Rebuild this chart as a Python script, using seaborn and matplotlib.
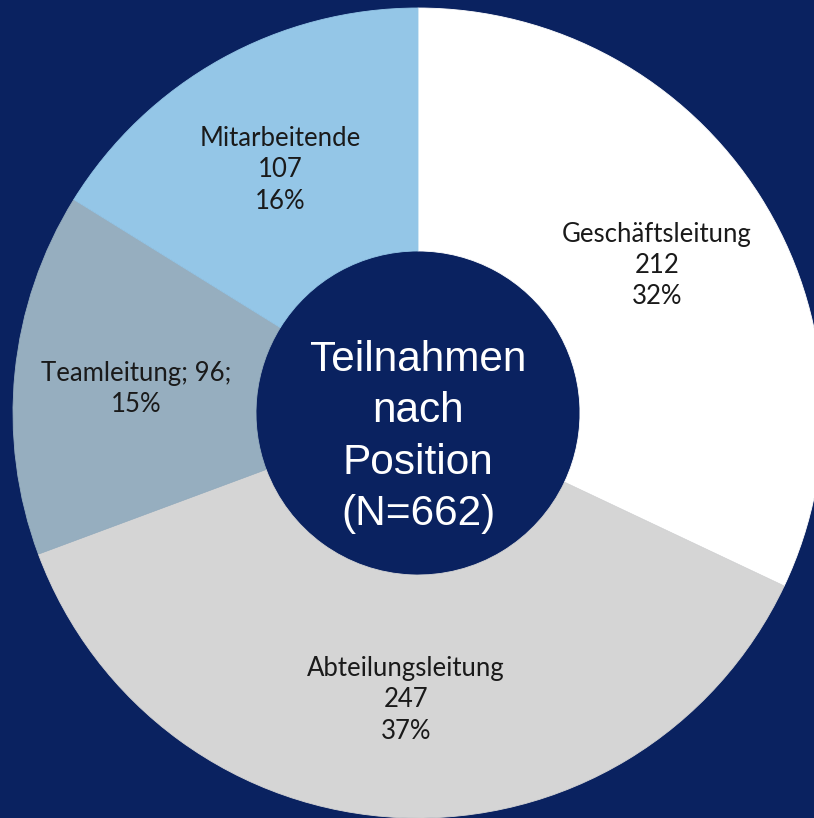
import numpy as np
import matplotlib
matplotlib.use("Agg")
import matplotlib.pyplot as plt
import seaborn as sns

# Data
categories = ["Geschäftsleitung", "Abteilungsleitung", "Teamleitung", "Mitarbeitende"]
counts = [212, 247, 96, 107]
colors = ["#FFFFFF", "#D5D5D5", "#96AEBF", "#94C6E7"]
center_title = "Teilnahmen\nnach\nPosition\n(N=662)"

sns.set_theme(style="white")
plt.rcParams['font.family'] = ['Lato', 'DejaVu Sans']

BG = "#0A2260"
W, H = 814, 818
fig = plt.figure(figsize=(W / 100, H / 100), dpi=100, facecolor=BG)
ax = fig.add_axes([0, 0, 1, 1])
ax.set_facecolor(BG)

cx, cy = 418, H - 413
R_out, R_in = 405, 162

wedges, _ = ax.pie(counts, colors=colors, startangle=90, counterclock=False,
                   center=(cx, cy), radius=R_out,
                   wedgeprops=dict(width=R_out - R_in, linewidth=0.6),
                   frame=True)
for w, c in zip(wedges, colors):
    w.set_edgecolor(c)
ax.set_xlim(0, W)
ax.set_ylim(0, H)
ax.set_aspect("equal")
ax.axis("off")

total = sum(counts)
for w, cat, n in zip(wedges, categories, counts):
    pct = int(round(n / total * 100))
    if cat == "Teamleitung":
        txt = f"{cat}; {n};\n{pct}%"
    else:
        txt = f"{cat}\n{n}\n{pct}%"
    mid = np.deg2rad((w.theta1 + w.theta2) / 2)
    r = 283
    ax.text(cx + r * np.cos(mid), cy + r * np.sin(mid) - 4, txt,
            ha="center", va="center", fontsize=18.5, color="#1A1A1A",
            linespacing=1.32)

ax.text(cx, cy - 24, center_title, ha="center", va="center", color="white",
        fontsize=30.5, family=["Liberation Sans", "DejaVu Sans"], linespacing=1.36)

fig.savefig("out.png", dpi=100, facecolor=BG)
